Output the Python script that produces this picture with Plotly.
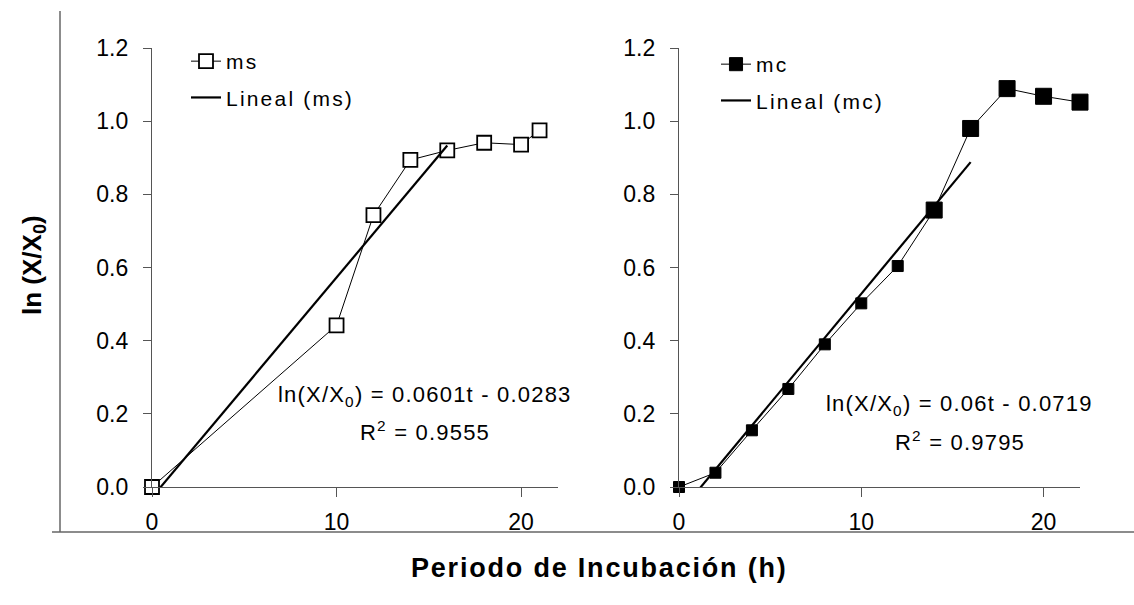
import plotly.graph_objects as go
import numpy as np

# ---- data ----
t_ms = [0, 10, 12, 14, 16, 18, 20, 21]
y_ms = [0.0, 0.442, 0.743, 0.894, 0.920, 0.941, 0.936, 0.975]
t_mc = [0, 2, 4, 6, 8, 10, 12, 14, 16, 18, 20, 22]
y_mc = [0.0, 0.039, 0.155, 0.268, 0.390, 0.502, 0.604, 0.757, 0.980, 1.089, 1.068, 1.052]

slope_ms, intercept_ms, r2_ms = 0.0601, -0.0283, 0.9555
slope_mc, intercept_mc, r2_mc = 0.06, -0.0719, 0.9795
fit_end = 16  # trendlines fitted on the exponential phase (0..16 h)

y_ticks = [0, 0.2, 0.4, 0.6, 0.8, 1.0, 1.2]
x_ticks = [0, 10, 20]

FONT = "Arial, Liberation Sans, sans-serif"

def sp(text, ls):
    return f'<span style="letter-spacing:{ls}px">{text}</span>'

def trend(slope, intercept):
    tt = np.array([0.0, fit_end])
    return tt, slope * tt + intercept

LEG_LS = 2.2

fig = go.Figure()

# left panel (ms)
fig.add_trace(go.Scatter(
    x=t_ms, y=y_ms, mode="lines+markers", name=sp("ms", LEG_LS),
    line=dict(color="black", width=1),
    marker=dict(symbol="square", size=14, color="white", opacity=1,
                line=dict(color="black", width=1.8)),
    cliponaxis=False, xaxis="x", yaxis="y", legend="legend", legendgroup="a"))
tx, ty = trend(slope_ms, intercept_ms)
fig.add_trace(go.Scatter(
    x=tx, y=ty, mode="lines", name=sp("Lineal (ms)", LEG_LS),
    line=dict(color="black", width=2.2),
    xaxis="x", yaxis="y", legend="legend", legendgroup="b"))

# right panel (mc)
mc_sizes = [11 if t < 14 else 16 for t in t_mc]
fig.add_trace(go.Scatter(
    x=t_mc, y=y_mc, mode="lines+markers", name=sp("mc", LEG_LS),
    line=dict(color="black", width=1),
    marker=dict(symbol="square", size=mc_sizes, color="black", opacity=1,
                line=dict(color="black", width=1)),
    cliponaxis=False, xaxis="x2", yaxis="y2", legend="legend2", legendgroup="c"))
tx, ty = trend(slope_mc, intercept_mc)
fig.add_trace(go.Scatter(
    x=tx, y=ty, mode="lines", name=sp("Lineal (mc)", LEG_LS),
    line=dict(color="black", width=2.2),
    xaxis="x2", yaxis="y2", legend="legend2", legendgroup="d"))

W, H = 1134, 605
def px(x): return x / W
def py(y): return 1 - y / H

axis_common = dict(showline=True, linecolor="#555", linewidth=1.3, showgrid=False, zeroline=False,
                   ticks="outside", tickcolor="#555", tickwidth=1.3, automargin=False,
                   tickfont=dict(family=FONT, size=23, color="black"))

fig.update_layout(
    template="none",
    width=W, height=H, margin=dict(l=0, r=0, t=0, b=0, pad=0), autosize=False,
    paper_bgcolor="white", plot_bgcolor="white",
    font=dict(family=FONT, size=22, color="black"),
    xaxis=dict(domain=[px(152), px(558)], range=[0, 22], tickvals=x_ticks, ticklen=9,
               ticklabelstandoff=5, anchor="y", **axis_common),
    yaxis=dict(domain=[py(487), py(48)], range=[0, 1.2], tickvals=y_ticks, tickformat=".1f",
               ticklen=8, ticklabelstandoff=10, anchor="x", **axis_common),
    xaxis2=dict(domain=[px(679), px(1080)], range=[0, 22], tickvals=x_ticks, ticklen=9,
                ticklabelstandoff=5, anchor="y2", **axis_common),
    yaxis2=dict(domain=[py(487), py(48)], range=[0, 1.2], tickvals=y_ticks, tickformat=".1f",
                ticklen=8, ticklabelstandoff=10, anchor="x2", **axis_common),
    legend=dict(x=px(186), y=py(41), xanchor="left", yanchor="top", bgcolor="rgba(0,0,0,0)",
                font=dict(family=FONT, size=21), traceorder="grouped", tracegroupgap=6),
    legend2=dict(x=px(716), y=py(44), xanchor="left", yanchor="top", bgcolor="rgba(0,0,0,0)",
                 font=dict(family=FONT, size=21), traceorder="grouped", tracegroupgap=6),
    showlegend=True,
)

EQ_LS = 1.2
ann = []
def add_ann(**kw):
    base = dict(showarrow=False, xanchor="center", yanchor="middle", font=dict(family=FONT, size=22))
    base.update(kw)
    ann.append(base)

add_ann(x=14.8, y=0.25, xref="x", yref="y",
        text=sp(f"ln(X/X<sub>0</sub>) = {slope_ms}t - {abs(intercept_ms)}", EQ_LS))
add_ann(x=14.8, y=0.152, xref="x", yref="y", text=sp(f"R<sup>2</sup> = {r2_ms}", EQ_LS))
add_ann(x=15.4, y=0.225, xref="x2", yref="y2",
        text=sp(f"ln(X/X<sub>0</sub>) = {slope_mc}t - {abs(intercept_mc)}", EQ_LS))
add_ann(x=15.4, y=0.125, xref="x2", yref="y2", text=sp(f"R<sup>2</sup> = {r2_mc}", EQ_LS))
add_ann(x=px(33), y=py(265), xref="paper", yref="paper", textangle=-90,
        text="<b>ln (X/X<sub>0</sub>)</b>", font=dict(family=FONT, size=26))
add_ann(x=px(599), y=py(568), xref="paper", yref="paper",
        text=sp("<b>Periodo de Incubación (h)</b>", 1.8), font=dict(family=FONT, size=27))
fig.update_layout(annotations=ann)

fig.update_layout(shapes=[
    dict(type="line", xref="paper", yref="paper", x0=px(60), x1=px(60), y0=py(11), y1=py(532),
         line=dict(color="#666", width=1.5)),
    dict(type="line", xref="paper", yref="paper", x0=px(52), x1=1, y0=py(532), y1=py(532),
         line=dict(color="#666", width=1.5)),
])

fig.write_html("out.html")
